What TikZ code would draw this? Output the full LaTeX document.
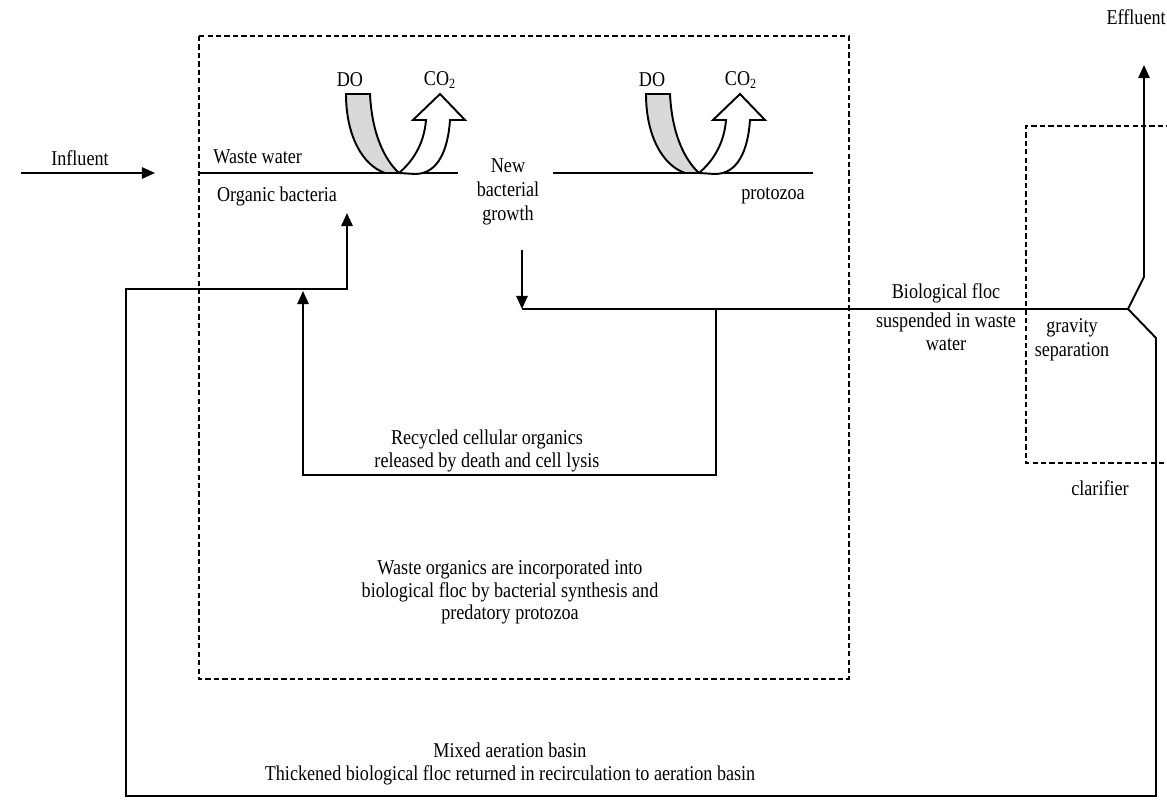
\documentclass[tikz,border=0pt]{standalone}
\usepackage{fontspec}
\setmainfont{Liberation Serif}[FakeStretch=0.86]
\usetikzlibrary{arrows.meta}
\tikzset{
  linea/.style={line width=1.1pt, draw=black},
  flecha/.style={linea, -{Triangle[length=7.5pt,width=6.5pt]}},
  caja/.style={line width=1.1pt, dash pattern=on 3pt off 1.8pt},
  texto/.style={font=\fontsize{12}{12.8}\selectfont, align=center, inner sep=0pt}
}
\begin{document}
\begin{tikzpicture}[x=0.02cm, y=-0.02cm]
        \useasboundingbox (0,0) rectangle (1167,800);
        % Cajas punteadas
        \draw[caja] (199,36) rectangle (849,679);
        \draw[caja] (1180,126) -- (1026,126) -- (1026,463) -- (1180,463);
        % Puntos de paso
        \coordinate (infA) at (21,173);
        \coordinate (infB) at (155,173);
        \coordinate (split) at (1128,309);
        \coordinate (effA) at (1144,277);
        \coordinate (effB) at (1144,65);
        \coordinate (retA) at (1156,338);
        \coordinate (retB) at (1156,796);
        \coordinate (retC) at (126,796);
        \coordinate (retD) at (126,289);
        \coordinate (retE) at (347,289);
        \coordinate (orgB) at (347,213);
        \coordinate (grA) at (522,250);
        \coordinate (grB) at (522,309);
        \coordinate (recA) at (716,309);
        \coordinate (recB) at (716,475);
        \coordinate (recC) at (303,475);
        \coordinate (recD) at (303,291);
        % Textos
        \node[texto] (influent) at (80,158) {Influent};
        \node[texto, anchor=east] (effluent) at (1166,17) {Effluent};
        \node[texto, anchor=west] (waste) at (213,157) {Waste water};
        \node[texto] (organic) at (277,196) {Organic bacteria};
        \node[texto] (protozoa) at (773,196) {protozoa};
        \node[texto, font=\fontsize{12}{13.6}\selectfont] (growth) at (508,192) {New\\bacterial\\growth};
        \node[texto] (floc) at (946,293) {Biological floc};
        \node[texto] (suspended) at (946,332) {suspended in waste\\water};
        \node[texto, font=\fontsize{12}{13.6}\selectfont] (gravity) at (1072,340) {gravity\\separation};
        \node[texto] (clarifier) at (1100,488) {clarifier};
        \node[texto] (recycled) at (487,451) {Recycled cellular organics\\released by death and cell lysis};
        \node[texto] (incorp) at (510,592) {Waste organics are incorporated into\\biological floc by bacterial synthesis and\\predatory protozoa};
        \node[texto] (basin) at (510,764) {Mixed aeration basin\\Thickened biological floc returned in recirculation to aeration basin};
        \node[texto] (do1) at (350,80) {DO};
        \node[texto] (co1) at (440,80) {CO\textsubscript{2}};
        \node[texto] (do2) at (652,80) {DO};
        \node[texto] (co2) at (741,80) {CO\textsubscript{2}};
        % Superficie del agua
        \draw[linea] (199,173) -- (458,173);
        \draw[linea] (553,173) -- (813,173);
        % Intercambio de gases
        \filldraw[linea, fill=gray!30] (346,94) -- (370,94) .. controls (372,135) and (385,160) .. (399,173) -- (385,173) .. controls (362,165) and (346,135) .. cycle;
        \filldraw[linea, fill=white] (399,173) .. controls (412,162) and (424,145) .. (426,120) -- (413,120) -- (440,94) -- (465,120) -- (450,120) .. controls (448,150) and (438,174) .. (415,174) -- cycle;
        \filldraw[linea, fill=gray!30] (646,94) -- (670,94) .. controls (672,135) and (685,160) .. (699,173) -- (685,173) .. controls (662,165) and (646,135) .. cycle;
        \filldraw[linea, fill=white] (699,173) .. controls (712,162) and (724,145) .. (726,120) -- (713,120) -- (740,94) -- (765,120) -- (750,120) .. controls (748,150) and (738,174) .. (715,174) -- cycle;
        % Flujos
        \draw[flecha] (infA) -- (infB);
        \draw[flecha] (grA) -- (grB);
        \draw[linea] (grB) -- (split);
        \draw[flecha] (split) -- (effA) -- (effB);
        \draw[flecha] (split) -- (retA) -- (retB) -- (retC) -- (retD) -- (retE) -- (orgB);
        \draw[flecha] (recA) -- (recB) -- (recC) -- (recD);
    \end{tikzpicture}
\end{document}
